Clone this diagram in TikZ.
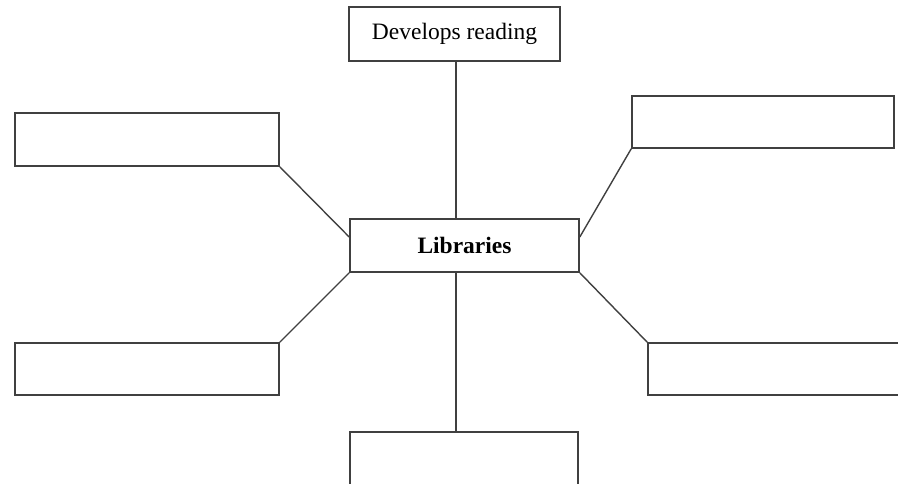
\documentclass[tikz,border=0pt]{standalone}
\usepackage{fontspec}
\setmainfont{Liberation Serif}
\begin{document}
\begin{tikzpicture}[x=1pt,y=-1pt,
  box/.style={draw=black!75, line width=1.6pt, fill=white, inner sep=0pt, rectangle, font=\fontsize{23.5}{27}\selectfont},
  link/.style={draw=black!75, line width=1.4pt}]
\useasboundingbox (0,0) rectangle (898,484);
\clip (0,0) rectangle (898,484);
\node[box, minimum width=211pt, minimum height=54pt] (top) at (454.5,34) {Develops reading};
\node[box, minimum width=229pt, minimum height=53pt, font=\fontsize{23.5}{27}\selectfont\bfseries] (lib) at (464.5,245.5) {Libraries};
\node[box, minimum width=264pt, minimum height=53pt] (tl) at (147,139.5) {};
\node[box, minimum width=262pt, minimum height=52pt] (tr) at (763,122) {};
\node[box, minimum width=264pt, minimum height=52pt] (bl) at (147,369) {};
\node[box, minimum width=262pt, minimum height=52pt] (br) at (779,369) {};
\node[box, minimum width=228pt, minimum height=54pt] (bot) at (464,459) {};
\coordinate (vx) at (456,0);
\draw[link] (top.south -| vx) -- (lib.north -| vx);
\draw[link] (lib.south -| vx) -- (bot.north -| vx);
\draw[link] (tl.south east) -- ([yshift=8.5pt]lib.west);
\draw[link] (tr.south west) -- ([yshift=8.5pt]lib.east);
\draw[link] (bl.north east) -- (lib.south west);
\draw[link] (br.north west) -- (lib.south east);
\end{tikzpicture}
\end{document}
